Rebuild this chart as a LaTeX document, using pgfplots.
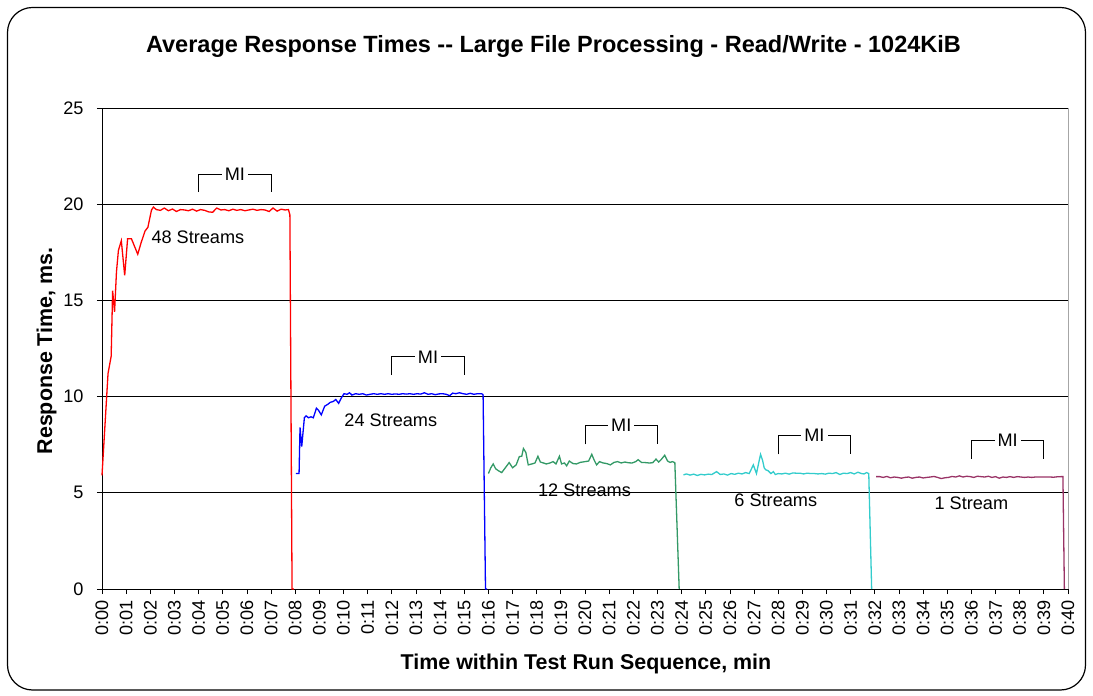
\documentclass[border=0pt]{standalone}
\usepackage{fontspec}
\setmainfont{Liberation Sans}
\usepackage{pgfplots}
\pgfplotsset{compat=1.18}
\definecolor{cgreen}{RGB}{51,153,102}
\definecolor{ccyan}{RGB}{51,204,204}
\definecolor{cpurple}{RGB}{153,51,102}
\newcommand{\fsm}{\fontsize{18.2}{21}\selectfont}
\newcommand{\fbg}{\fontsize{21.5}{25}\selectfont\bfseries}
\newcommand{\ftt}{\fontsize{23.6}{27}\selectfont\bfseries}
\begin{document}
\begin{tikzpicture}
\useasboundingbox (0,0) rectangle (1093bp,696bp);
\draw[line width=1.2bp, rounded corners=25bp] (7.5bp,6bp) rectangle (1085.5bp,688.5bp);
\node[anchor=base, font=\ftt] at (553.5bp,643bp) {Average Response Times -{}- Large File Processing - Read/Write - 1024KiB};
\node[anchor=base, font=\fbg] at (586bp,27bp) {Time within Test Run Sequence, min};
\node[anchor=base, rotate=90, font=\fbg] at (52bp,345bp) {Response Time, ms.};
\begin{axis}[
  at={(102bp,107bp)}, anchor=south west,
  scale only axis, width=966bp, height=481bp,
  xmin=0, xmax=40, ymin=0, ymax=25,
  axis x line*=bottom, axis y line*=left,
  xtick={0,...,40},
  xticklabels={0:00,0:01,0:02,0:03,0:04,0:05,0:06,0:07,0:08,0:09,0:10,0:11,0:12,0:13,0:14,0:15,0:16,0:17,0:18,0:19,0:20,0:21,0:22,0:23,0:24,0:25,0:26,0:27,0:28,0:29,0:30,0:31,0:32,0:33,0:34,0:35,0:36,0:37,0:38,0:39,0:40},
  ytick={0,5,...,25},
  ymajorgrids, grid style={black, line width=0.8bp},
  tick align=outside, major tick length=5bp,
  tick style={black, line width=0.8bp},
  axis line style={black, line width=0.8bp},
  xticklabel style={rotate=90, anchor=east, font=\fsm, xshift=-3bp},
  yticklabel style={font=\fsm, xshift=-10bp},
  /pgf/number format/assume math mode=true,
  no markers, clip=false,
]
\addplot[red, line width=1.3bp] coordinates {
(0.00,5.9) (0.25,11.2) (0.38,12.1) (0.44,15.5) (0.52,14.4) (0.60,16.5) (0.68,17.6) (0.80,18.1) (0.94,16.3) (1.06,18.2) (1.22,18.2) (1.48,17.4) (1.62,18.0) (1.78,18.6) (1.90,18.8) (2.05,19.7) (2.13,19.85)
(2.25,19.72) (2.42,19.68) (2.58,19.8) (2.75,19.66) (2.92,19.75) (3.08,19.62) (3.25,19.72) (3.42,19.70) (3.58,19.66) (3.75,19.74) (3.92,19.64) (4.08,19.72) (4.25,19.68) (4.42,19.60) (4.58,19.58) (4.75,19.80) (4.92,19.70) (5.08,19.72) (5.25,19.66) (5.42,19.74) (5.58,19.68) (5.75,19.72) (5.92,19.66) (6.08,19.70) (6.25,19.74) (6.42,19.68) (6.58,19.72) (6.75,19.70) (6.92,19.62) (7.08,19.80) (7.25,19.64) (7.42,19.74) (7.58,19.70) (7.72,19.72)
(7.78,19.45) (7.87,0) (7.95,0)
};
\addplot[blue, line width=1.3bp] coordinates {
(8.03,6.0) (8.16,6.0) (8.20,8.4) (8.27,7.4) (8.38,8.9) (8.45,9.0) (8.55,8.9) (8.65,8.95) (8.75,8.9) (8.88,9.4) (8.96,9.3) (9.08,9.05) (9.22,9.5) (9.35,9.6) (9.45,9.7) (9.58,9.75) (9.68,9.85) (9.80,9.65) (9.92,9.95) (10.02,10.15) (10.15,10.12) (10.25,10.2) (10.35,10.08) (10.50,10.15) (10.65,10.12) (10.80,10.15) (10.95,10.08) (11.10,10.12) (11.25,10.15) (11.40,10.12) (11.55,10.15) (11.70,10.12) (11.85,10.15) (12.00,10.12) (12.15,10.14) (12.30,10.12) (12.45,10.15) (12.60,10.13) (12.75,10.15) (12.90,10.12) (13.05,10.15) (13.20,10.13) (13.35,10.2) (13.50,10.12) (13.65,10.15) (13.80,10.1) (13.95,10.14) (14.10,10.15) (14.25,10.12) (14.40,10.05) (14.52,10.18) (14.65,10.15) (14.80,10.2) (14.95,10.15) (15.10,10.12) (15.25,10.17) (15.40,10.12) (15.55,10.15) (15.72,10.15) (15.78,10.1) (15.88,0) (15.95,0)
};
\addplot[cgreen, line width=1.3bp] coordinates {
(16.00,6.0) (16.10,6.3) (16.20,6.5) (16.30,6.25) (16.41,6.15) (16.55,6.05) (16.70,6.3) (16.86,6.57) (17.0,6.3) (17.15,6.45) (17.28,6.88) (17.38,6.9) (17.45,7.3) (17.55,7.1) (17.65,6.45) (17.80,6.5) (17.93,6.55) (18.05,6.9) (18.15,6.6) (18.28,6.55) (18.40,6.5) (18.55,6.55) (18.68,6.62) (18.80,6.5) (18.94,6.9) (19.03,6.5) (19.15,6.55) (19.24,6.4) (19.35,6.65) (19.50,6.52) (19.65,6.5) (19.80,6.58) (20.00,6.62) (20.15,6.65) (20.28,7.0) (20.38,6.7) (20.48,6.45) (20.60,6.62) (20.75,6.55) (20.90,6.52) (21.05,6.45) (21.20,6.58) (21.35,6.62) (21.50,6.55) (21.65,6.6) (21.80,6.56) (21.95,6.55) (22.10,6.62) (22.20,6.72) (22.35,6.57) (22.50,6.57) (22.65,6.55) (22.80,6.56) (22.94,6.75) (23.05,6.6) (23.15,6.72) (23.30,6.95) (23.42,6.65) (23.52,6.58) (23.62,6.62) (23.72,6.57) (23.90,0)
};
\addplot[ccyan, line width=1.3bp] coordinates {
(24.08,5.93) (24.2,5.98) (24.35,5.92) (24.5,5.97) (24.65,5.9) (24.8,5.96) (24.95,5.93) (25.1,5.97) (25.25,5.95) (25.45,6.1) (25.6,5.95) (25.75,5.98) (25.9,5.92) (26.05,6.0) (26.2,5.96) (26.35,6.02) (26.5,5.98) (26.65,6.05) (26.8,6.0) (26.97,6.45) (27.1,6.0) (27.2,6.6) (27.27,7.0) (27.35,6.7) (27.42,6.3) (27.48,6.2) (27.58,6.15) (27.7,6.0) (27.8,6.1) (27.88,5.95) (28.0,6.0) (28.15,5.98) (28.3,6.02) (28.45,5.97) (28.6,6.03) (28.75,6.02) (28.9,6.02) (29.05,5.98) (29.2,6.02) (29.35,6.0) (29.5,6.0) (29.65,5.98) (29.8,6.0) (29.95,5.97) (30.1,6.02) (30.25,6.0) (30.4,6.05) (30.55,5.95) (30.7,6.02) (30.85,6.0) (31.0,6.05) (31.15,5.98) (31.3,6.07) (31.45,6.0) (31.55,5.98) (31.66,6.05) (31.75,6.0) (31.87,0)
};
\addplot[cpurple, line width=1.3bp] coordinates {
(32.05,5.84) (32.2,5.84) (32.35,5.8) (32.5,5.85) (32.65,5.78) (32.8,5.82) (32.95,5.8) (33.1,5.76) (33.25,5.8) (33.4,5.82) (33.55,5.76) (33.7,5.8) (33.85,5.82) (34.0,5.77) (34.15,5.8) (34.3,5.82) (34.45,5.85) (34.6,5.8) (34.75,5.74) (34.9,5.78) (35.05,5.8) (35.2,5.85) (35.35,5.82) (35.5,5.88) (35.65,5.82) (35.8,5.86) (35.95,5.84) (36.1,5.8) (36.25,5.86) (36.4,5.84) (36.55,5.82) (36.7,5.86) (36.85,5.8) (37.0,5.84) (37.15,5.76) (37.3,5.82) (37.45,5.8) (37.6,5.84) (37.75,5.8) (37.9,5.84) (38.05,5.82) (38.2,5.8) (38.35,5.82) (38.5,5.8) (38.65,5.82) (38.8,5.82) (38.95,5.82) (39.1,5.82) (39.25,5.82) (39.4,5.81) (39.55,5.83) (39.7,5.84) (39.79,5.84) (39.85,0)
};
\draw[gray!70, line width=0.8bp] (rel axis cs:1,0) -- (rel axis cs:1,1);
\node[font=\fsm] at (axis cs:3.97,18.26) {48 Streams};
\node[font=\fsm] at (axis cs:11.96,8.78) {24 Streams};
\node[font=\fsm] at (axis cs:19.98,5.15) {12 Streams};
\node[font=\fsm] at (axis cs:27.9,4.63) {6 Streams};
\node[font=\fsm] at (axis cs:36.0,4.45) {1 Stream};
\draw[line width=0.8bp] (axis cs:4,20.63) -- (axis cs:4,21.57) -- (axis cs:7,21.57) -- (axis cs:7,20.63);
\node[fill=white, inner sep=3bp, font=\fsm] at (axis cs:5.5,21.57) {MI};
\draw[line width=0.8bp] (axis cs:12,11.12) -- (axis cs:12,12.07) -- (axis cs:15,12.07) -- (axis cs:15,11.12);
\node[fill=white, inner sep=3bp, font=\fsm] at (axis cs:13.5,12.07) {MI};
\draw[line width=0.8bp] (axis cs:20,7.52) -- (axis cs:20,8.49) -- (axis cs:23,8.49) -- (axis cs:23,7.52);
\node[fill=white, inner sep=3bp, font=\fsm] at (axis cs:21.5,8.49) {MI};
\draw[line width=0.8bp] (axis cs:28,7.0) -- (axis cs:28,7.97) -- (axis cs:31,7.97) -- (axis cs:31,7.0);
\node[fill=white, inner sep=3bp, font=\fsm] at (axis cs:29.5,7.97) {MI};
\draw[line width=0.8bp] (axis cs:36,6.76) -- (axis cs:36,7.74) -- (axis cs:39,7.74) -- (axis cs:39,6.76);
\node[fill=white, inner sep=3bp, font=\fsm] at (axis cs:37.5,7.74) {MI};
\end{axis}
\end{tikzpicture}
\end{document}
